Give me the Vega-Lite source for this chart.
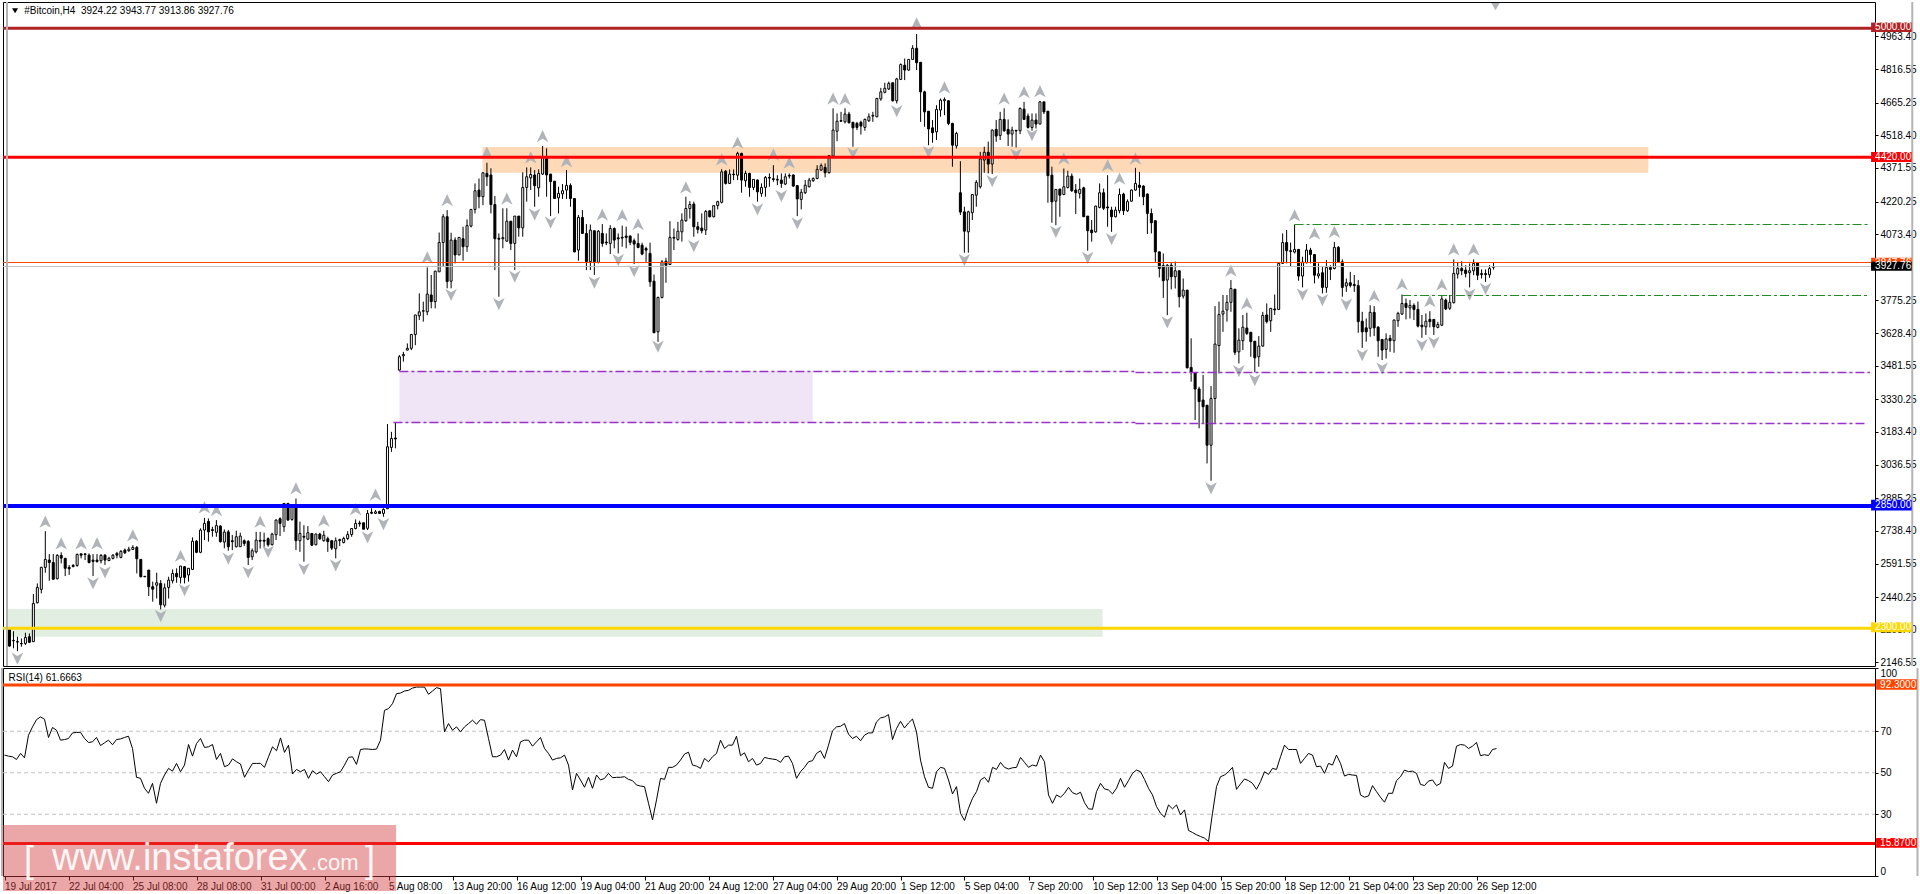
{"$schema":"https://vega.github.io/schema/vega-lite/v6.json","background":"#ffffff","padding":{"left":0,"top":0,"right":0,"bottom":0},"bounds":"flush","spacing":2,
"config":{"font":"Liberation Sans","view":{"stroke":"#000000","strokeWidth":1},"axis":{"grid":false,"title":null,"labelFont":"Liberation Sans","labelFontSize":10,"labelColor":"#000000","tickColor":"#000000","domain":false,"tickSize":3,"labelPadding":2,"labelOverlap":false}},
"datasets":{
"bars":[
{"i":0,"o":2295,"h":2300,"l":2217,"c":2220,"r":58.5},{"i":1,"o":2246,"h":2287,"l":2210,"c":2244,"r":58.0},{"i":2,"o":2240,"h":2262,"l":2197,"c":2238,"r":57.7},{"i":3,"o":2232,"h":2254,"l":2217,"c":2230,"r":56.4},{"i":4,"o":2232,"h":2280,"l":2225,"c":2259,"r":59.3},{"i":5,"o":2262,"h":2277,"l":2235,"c":2237,"r":57.2},{"i":6,"o":2240,"h":2454,"l":2238,"c":2412,"r":68.1},{"i":7,"o":2415,"h":2502,"l":2412,"c":2484,"r":72.1},{"i":8,"o":2475,"h":2577,"l":2457,"c":2574,"r":75.6},{"i":9,"o":2574,"h":2737,"l":2550,"c":2610,"r":76.9},
{"i":10,"o":2607,"h":2634,"l":2514,"c":2596,"r":75.8},{"i":11,"o":2596,"h":2634,"l":2517,"c":2521,"r":67.0},{"i":12,"o":2523,"h":2634,"l":2520,"c":2628,"r":71.8},{"i":13,"o":2628,"h":2642,"l":2592,"c":2616,"r":70.5},{"i":14,"o":2615,"h":2615,"l":2535,"c":2570,"r":65.7},{"i":15,"o":2574,"h":2585,"l":2540,"c":2568,"r":66.0},{"i":16,"o":2583,"h":2589,"l":2574,"c":2578,"r":66.5},{"i":17,"o":2583,"h":2637,"l":2577,"c":2632,"r":69.2},{"i":18,"o":2635,"h":2637,"l":2615,"c":2629,"r":69.4},{"i":19,"o":2635,"h":2637,"l":2607,"c":2632,"r":69.5},
{"i":20,"o":2629,"h":2637,"l":2592,"c":2596,"r":66.5},{"i":21,"o":2607,"h":2634,"l":2535,"c":2601,"r":64.6},{"i":22,"o":2607,"h":2634,"l":2596,"c":2600,"r":64.9},{"i":23,"o":2604,"h":2634,"l":2592,"c":2628,"r":67.0},{"i":24,"o":2629,"h":2634,"l":2585,"c":2607,"r":63.1},{"i":25,"o":2605,"h":2622,"l":2602,"c":2615,"r":64.4},{"i":26,"o":2615,"h":2634,"l":2610,"c":2629,"r":65.7},{"i":27,"o":2637,"h":2644,"l":2615,"c":2629,"r":63.5},{"i":28,"o":2619,"h":2652,"l":2615,"c":2646,"r":66.0},{"i":29,"o":2652,"h":2659,"l":2634,"c":2640,"r":66.3},
{"i":30,"o":2649,"h":2667,"l":2644,"c":2656,"r":67.0},{"i":31,"o":2655,"h":2674,"l":2652,"c":2664,"r":67.6},{"i":32,"o":2664,"h":2670,"l":2547,"c":2613,"r":61.7},{"i":33,"o":2610,"h":2610,"l":2529,"c":2532,"r":47.8},{"i":34,"o":2534,"h":2534,"l":2530,"c":2532,"r":47.3},{"i":35,"o":2562,"h":2562,"l":2445,"c":2487,"r":42.5},{"i":36,"o":2487,"h":2510,"l":2420,"c":2476,"r":40.1},{"i":37,"o":2494,"h":2550,"l":2434,"c":2505,"r":44.9},{"i":38,"o":2502,"h":2517,"l":2385,"c":2406,"r":35.3},{"i":39,"o":2404,"h":2502,"l":2394,"c":2482,"r":44.9},
{"i":40,"o":2484,"h":2532,"l":2434,"c":2517,"r":48.9},{"i":41,"o":2514,"h":2565,"l":2502,"c":2547,"r":52.1},{"i":42,"o":2547,"h":2570,"l":2505,"c":2532,"r":50.8},{"i":43,"o":2529,"h":2580,"l":2502,"c":2580,"r":54.5},{"i":44,"o":2577,"h":2580,"l":2502,"c":2529,"r":50.5},{"i":45,"o":2540,"h":2570,"l":2510,"c":2570,"r":53.7},{"i":46,"o":2565,"h":2709,"l":2562,"c":2692,"r":63.6},{"i":47,"o":2692,"h":2697,"l":2638,"c":2642,"r":58.0},{"i":48,"o":2642,"h":2750,"l":2638,"c":2742,"r":64.1},{"i":49,"o":2742,"h":2797,"l":2697,"c":2772,"r":66.5},
{"i":50,"o":2781,"h":2794,"l":2690,"c":2734,"r":62.2},{"i":51,"o":2744,"h":2757,"l":2712,"c":2740,"r":62.5},{"i":52,"o":2732,"h":2787,"l":2712,"c":2762,"r":63.6},{"i":53,"o":2760,"h":2764,"l":2685,"c":2690,"r":56.4},{"i":54,"o":2688,"h":2745,"l":2660,"c":2733,"r":59.3},{"i":55,"o":2734,"h":2742,"l":2649,"c":2667,"r":52.9},{"i":56,"o":2694,"h":2720,"l":2652,"c":2690,"r":53.7},{"i":57,"o":2667,"h":2739,"l":2664,"c":2712,"r":56.7},{"i":58,"o":2667,"h":2730,"l":2667,"c":2715,"r":55.3},{"i":59,"o":2694,"h":2700,"l":2670,"c":2682,"r":54.2},
{"i":60,"o":2691,"h":2697,"l":2585,"c":2619,"r":47.8},{"i":61,"o":2622,"h":2659,"l":2607,"c":2649,"r":51.3},{"i":62,"o":2644,"h":2734,"l":2637,"c":2697,"r":54.5},{"i":63,"o":2696,"h":2734,"l":2659,"c":2692,"r":54.5},{"i":64,"o":2696,"h":2730,"l":2667,"c":2692,"r":54.5},{"i":65,"o":2703,"h":2709,"l":2667,"c":2676,"r":52.6},{"i":66,"o":2676,"h":2730,"l":2673,"c":2724,"r":57.7},{"i":67,"o":2721,"h":2790,"l":2697,"c":2787,"r":62.5},{"i":68,"o":2793,"h":2799,"l":2715,"c":2772,"r":60.6},{"i":69,"o":2757,"h":2862,"l":2734,"c":2862,"r":66.8},
{"i":70,"o":2862,"h":2862,"l":2784,"c":2787,"r":59.8},{"i":71,"o":2790,"h":2859,"l":2784,"c":2844,"r":63.3},{"i":72,"o":2854,"h":2884,"l":2652,"c":2694,"r":49.4},{"i":73,"o":2694,"h":2780,"l":2644,"c":2727,"r":51.6},{"i":74,"o":2714,"h":2764,"l":2600,"c":2710,"r":50.5},{"i":75,"o":2701,"h":2760,"l":2697,"c":2730,"r":51.6},{"i":76,"o":2727,"h":2727,"l":2670,"c":2674,"r":47.3},{"i":77,"o":2676,"h":2727,"l":2673,"c":2724,"r":51.0},{"i":78,"o":2724,"h":2730,"l":2697,"c":2703,"r":49.4},{"i":79,"o":2694,"h":2739,"l":2690,"c":2719,"r":50.5},
{"i":80,"o":2703,"h":2712,"l":2644,"c":2690,"r":48.1},{"i":81,"o":2694,"h":2697,"l":2652,"c":2661,"r":45.7},{"i":82,"o":2658,"h":2709,"l":2615,"c":2694,"r":48.9},{"i":83,"o":2699,"h":2703,"l":2670,"c":2695,"r":49.7},{"i":84,"o":2686,"h":2712,"l":2682,"c":2704,"r":50.5},{"i":85,"o":2704,"h":2737,"l":2697,"c":2722,"r":53.7},{"i":86,"o":2722,"h":2749,"l":2712,"c":2749,"r":57.4},{"i":87,"o":2749,"h":2790,"l":2745,"c":2772,"r":57.7},{"i":88,"o":2774,"h":2784,"l":2757,"c":2770,"r":54.0},{"i":89,"o":2775,"h":2775,"l":2745,"c":2746,"r":61.2},
{"i":90,"o":2750,"h":2832,"l":2742,"c":2817,"r":61.5},{"i":91,"o":2822,"h":2840,"l":2814,"c":2818,"r":61.4},{"i":92,"o":2817,"h":2832,"l":2814,"c":2824,"r":61.2},{"i":93,"o":2826,"h":2829,"l":2817,"c":2817,"r":61.4},{"i":94,"o":2817,"h":2840,"l":2802,"c":2835,"r":65.7},{"i":95,"o":2838,"h":3219,"l":2838,"c":3117,"r":80.1},{"i":96,"o":3114,"h":3184,"l":3094,"c":3154,"r":80.9},{"i":97,"o":3156,"h":3225,"l":3110,"c":3152,"r":83.3},{"i":98,"o":3462,"h":3530,"l":3459,"c":3522,"r":88.1},{"i":99,"o":3526,"h":3544,"l":3500,"c":3532,"r":88.4},
{"i":100,"o":3552,"h":3582,"l":3550,"c":3560,"r":89.4},{"i":101,"o":3560,"h":3625,"l":3552,"c":3622,"r":89.7},{"i":102,"o":3622,"h":3710,"l":3574,"c":3710,"r":90.8},{"i":103,"o":3706,"h":3807,"l":3687,"c":3724,"r":91.3},{"i":104,"o":3727,"h":3770,"l":3680,"c":3729,"r":91.3},{"i":105,"o":3724,"h":3924,"l":3709,"c":3804,"r":91.3},{"i":106,"o":3800,"h":3890,"l":3740,"c":3770,"r":87.8},{"i":107,"o":3770,"h":3909,"l":3740,"c":3907,"r":89.4},{"i":108,"o":3904,"h":4081,"l":3904,"c":4036,"r":91.0},{"i":109,"o":4036,"h":4164,"l":3927,"c":4152,"r":90.5},
{"i":110,"o":4152,"h":4182,"l":3830,"c":3860,"r":69.7},{"i":111,"o":3862,"h":4080,"l":3830,"c":4047,"r":73.7},{"i":112,"o":4047,"h":4059,"l":3942,"c":3980,"r":70.5},{"i":113,"o":3980,"h":4059,"l":3980,"c":4059,"r":72.1},{"i":114,"o":4053,"h":4107,"l":3954,"c":4017,"r":69.7},{"i":115,"o":4017,"h":4140,"l":3994,"c":4112,"r":72.1},{"i":116,"o":4110,"h":4185,"l":4104,"c":4185,"r":73.7},{"i":117,"o":4185,"h":4302,"l":4167,"c":4269,"r":75.3},{"i":118,"o":4272,"h":4324,"l":4190,"c":4242,"r":73.4},{"i":119,"o":4242,"h":4350,"l":4204,"c":4350,"r":75.6},
{"i":120,"o":4347,"h":4395,"l":4290,"c":4332,"r":75.3},{"i":121,"o":4340,"h":4370,"l":4167,"c":4207,"r":66.5},{"i":122,"o":4207,"h":4245,"l":3912,"c":4053,"r":57.7},{"i":123,"o":4055,"h":4077,"l":3792,"c":4051,"r":57.7},{"i":124,"o":4053,"h":4190,"l":4010,"c":4058,"r":58.5},{"i":125,"o":4042,"h":4190,"l":4040,"c":4132,"r":61.2},{"i":126,"o":4132,"h":4132,"l":4002,"c":4032,"r":56.1},{"i":127,"o":4032,"h":4155,"l":3912,"c":4155,"r":60.9},{"i":128,"o":4155,"h":4155,"l":4062,"c":4102,"r":57.7},{"i":129,"o":4102,"h":4352,"l":4062,"c":4284,"r":64.9},
{"i":130,"o":4284,"h":4374,"l":4220,"c":4332,"r":65.7},{"i":131,"o":4327,"h":4374,"l":4272,"c":4342,"r":65.7},{"i":132,"o":4340,"h":4362,"l":4197,"c":4292,"r":62.8},{"i":133,"o":4282,"h":4365,"l":4242,"c":4347,"r":64.9},{"i":134,"o":4344,"h":4470,"l":4340,"c":4419,"r":67.0},{"i":135,"o":4419,"h":4460,"l":4242,"c":4340,"r":61.7},{"i":136,"o":4344,"h":4344,"l":4155,"c":4310,"r":59.3},{"i":137,"o":4312,"h":4312,"l":4234,"c":4234,"r":56.1},{"i":138,"o":4237,"h":4287,"l":4167,"c":4257,"r":56.9},{"i":139,"o":4255,"h":4299,"l":4232,"c":4269,"r":57.2},
{"i":140,"o":4272,"h":4362,"l":4232,"c":4293,"r":58.5},{"i":141,"o":4293,"h":4302,"l":4197,"c":4234,"r":53.7},{"i":142,"o":4234,"h":4234,"l":3992,"c":3994,"r":41.7},{"i":143,"o":4002,"h":4160,"l":3954,"c":4149,"r":49.7},{"i":144,"o":4149,"h":4182,"l":4077,"c":4077,"r":46.5},{"i":145,"o":4077,"h":4119,"l":3912,"c":3950,"r":43.0},{"i":146,"o":3950,"h":4117,"l":3912,"c":4092,"r":47.8},{"i":147,"o":4089,"h":4089,"l":3890,"c":3950,"r":42.5},{"i":148,"o":3947,"h":4092,"l":3942,"c":4087,"r":48.9},{"i":149,"o":4077,"h":4119,"l":4017,"c":4032,"r":46.5},
{"i":150,"o":4038,"h":4077,"l":4024,"c":4034,"r":47.3},{"i":151,"o":4032,"h":4114,"l":3984,"c":4099,"r":49.7},{"i":152,"o":4099,"h":4104,"l":4010,"c":4047,"r":47.6},{"i":153,"o":4057,"h":4077,"l":3987,"c":4053,"r":47.8},{"i":154,"o":4059,"h":4112,"l":4017,"c":4056,"r":47.8},{"i":155,"o":4065,"h":4107,"l":4010,"c":4059,"r":48.1},{"i":156,"o":4065,"h":4069,"l":4024,"c":4037,"r":46.8},{"i":157,"o":4044,"h":4054,"l":3939,"c":4029,"r":46.2},{"i":158,"o":4032,"h":4077,"l":4010,"c":4014,"r":44.1},{"i":159,"o":4024,"h":4035,"l":3979,"c":3984,"r":43.6},
{"i":160,"o":4009,"h":4017,"l":3949,"c":4002,"r":43.3},{"i":161,"o":3987,"h":4035,"l":3837,"c":3859,"r":35.3},{"i":162,"o":3862,"h":3892,"l":3630,"c":3630,"r":27.3},{"i":163,"o":3634,"h":3792,"l":3589,"c":3789,"r":36.9},{"i":164,"o":3789,"h":3957,"l":3784,"c":3949,"r":47.3},{"i":165,"o":3952,"h":3967,"l":3855,"c":3934,"r":46.8},{"i":166,"o":3937,"h":4132,"l":3937,"c":4059,"r":52.6},{"i":167,"o":4059,"h":4099,"l":4002,"c":4056,"r":52.6},{"i":168,"o":4050,"h":4129,"l":4044,"c":4087,"r":53.7},{"i":169,"o":4084,"h":4167,"l":4040,"c":4137,"r":56.1},
{"i":170,"o":4134,"h":4242,"l":4129,"c":4189,"r":59.0},{"i":171,"o":4189,"h":4222,"l":4144,"c":4207,"r":59.9},{"i":172,"o":4209,"h":4220,"l":4062,"c":4107,"r":53.7},{"i":173,"o":4107,"h":4129,"l":4077,"c":4095,"r":53.2},{"i":174,"o":4101,"h":4167,"l":4077,"c":4089,"r":52.1},{"i":175,"o":4092,"h":4182,"l":4070,"c":4176,"r":56.9},{"i":176,"o":4179,"h":4179,"l":4149,"c":4152,"r":55.3},{"i":177,"o":4152,"h":4204,"l":4149,"c":4202,"r":57.7},{"i":178,"o":4202,"h":4224,"l":4185,"c":4220,"r":59.3},{"i":179,"o":4217,"h":4366,"l":4212,"c":4354,"r":65.7},
{"i":180,"o":4357,"h":4362,"l":4297,"c":4302,"r":61.7},{"i":181,"o":4302,"h":4365,"l":4299,"c":4344,"r":63.3},{"i":182,"o":4344,"h":4365,"l":4317,"c":4341,"r":63.3},{"i":183,"o":4339,"h":4444,"l":4317,"c":4437,"r":67.6},{"i":184,"o":4437,"h":4440,"l":4260,"c":4317,"r":58.2},{"i":185,"o":4314,"h":4359,"l":4287,"c":4347,"r":59.6},{"i":186,"o":4347,"h":4350,"l":4242,"c":4284,"r":55.3},{"i":187,"o":4284,"h":4320,"l":4272,"c":4320,"r":56.9},{"i":188,"o":4317,"h":4320,"l":4220,"c":4264,"r":53.7},{"i":189,"o":4257,"h":4302,"l":4242,"c":4284,"r":54.5},
{"i":190,"o":4284,"h":4335,"l":4242,"c":4329,"r":57.4},{"i":191,"o":4329,"h":4347,"l":4287,"c":4326,"r":56.9},{"i":192,"o":4323,"h":4384,"l":4309,"c":4320,"r":56.6},{"i":193,"o":4320,"h":4339,"l":4294,"c":4317,"r":56.3},{"i":194,"o":4317,"h":4347,"l":4282,"c":4302,"r":55.0},{"i":195,"o":4299,"h":4347,"l":4294,"c":4332,"r":57.7},{"i":196,"o":4338,"h":4347,"l":4324,"c":4335,"r":58.0},{"i":197,"o":4340,"h":4342,"l":4287,"c":4290,"r":54.5},{"i":198,"o":4292,"h":4294,"l":4155,"c":4232,"r":47.3},{"i":199,"o":4230,"h":4277,"l":4185,"c":4262,"r":50.5},
{"i":200,"o":4260,"h":4317,"l":4254,"c":4294,"r":52.6},{"i":201,"o":4287,"h":4327,"l":4284,"c":4317,"r":55.3},{"i":202,"o":4314,"h":4329,"l":4309,"c":4324,"r":55.8},{"i":203,"o":4324,"h":4384,"l":4321,"c":4365,"r":59.3},{"i":204,"o":4362,"h":4392,"l":4359,"c":4382,"r":60.6},{"i":205,"o":4374,"h":4392,"l":4329,"c":4350,"r":56.9},{"i":206,"o":4350,"h":4430,"l":4347,"c":4427,"r":63.3},{"i":207,"o":4425,"h":4640,"l":4422,"c":4542,"r":70.2},{"i":208,"o":4537,"h":4617,"l":4492,"c":4582,"r":72.1},{"i":209,"o":4585,"h":4624,"l":4579,"c":4582,"r":72.4},
{"i":210,"o":4579,"h":4640,"l":4572,"c":4614,"r":73.7},{"i":211,"o":4614,"h":4624,"l":4572,"c":4575,"r":68.6},{"i":212,"o":4577,"h":4579,"l":4467,"c":4552,"r":66.5},{"i":213,"o":4572,"h":4579,"l":4542,"c":4554,"r":67.6},{"i":214,"o":4577,"h":4584,"l":4522,"c":4560,"r":65.4},{"i":215,"o":4554,"h":4594,"l":4539,"c":4590,"r":68.1},{"i":216,"o":4584,"h":4617,"l":4579,"c":4602,"r":69.2},{"i":217,"o":4605,"h":4624,"l":4579,"c":4608,"r":69.2},{"i":218,"o":4602,"h":4687,"l":4599,"c":4684,"r":74.5},{"i":219,"o":4682,"h":4732,"l":4674,"c":4714,"r":76.4},
{"i":220,"o":4712,"h":4755,"l":4707,"c":4730,"r":76.9},{"i":221,"o":4727,"h":4760,"l":4722,"c":4752,"r":78.0},{"i":222,"o":4755,"h":4755,"l":4670,"c":4674,"r":66.0},{"i":223,"o":4674,"h":4777,"l":4662,"c":4772,"r":71.3},{"i":224,"o":4770,"h":4842,"l":4767,"c":4837,"r":74.8},{"i":225,"o":4834,"h":4864,"l":4767,"c":4812,"r":71.6},{"i":226,"o":4812,"h":4860,"l":4809,"c":4860,"r":74.0},{"i":227,"o":4860,"h":4924,"l":4860,"c":4910,"r":75.9},{"i":228,"o":4910,"h":4974,"l":4812,"c":4845,"r":69.7},{"i":229,"o":4847,"h":4847,"l":4579,"c":4714,"r":56.1},
{"i":230,"o":4714,"h":4719,"l":4557,"c":4624,"r":48.1},{"i":231,"o":4627,"h":4627,"l":4474,"c":4547,"r":43.0},{"i":232,"o":4552,"h":4587,"l":4485,"c":4530,"r":42.5},{"i":233,"o":4534,"h":4654,"l":4497,"c":4635,"r":50.5},{"i":234,"o":4632,"h":4684,"l":4602,"c":4677,"r":52.6},{"i":235,"o":4674,"h":4689,"l":4609,"c":4680,"r":52.1},{"i":236,"o":4674,"h":4677,"l":4564,"c":4572,"r":46.5},{"i":237,"o":4572,"h":4575,"l":4377,"c":4474,"r":39.8},{"i":238,"o":4471,"h":4534,"l":4459,"c":4527,"r":43.3},{"i":239,"o":4260,"h":4402,"l":4160,"c":4173,"r":30.5},
{"i":240,"o":4174,"h":4197,"l":3990,"c":4087,"r":27.0},{"i":241,"o":4084,"h":4179,"l":3990,"c":4174,"r":32.9},{"i":242,"o":4170,"h":4254,"l":4137,"c":4252,"r":37.7},{"i":243,"o":4249,"h":4317,"l":4197,"c":4307,"r":40.9},{"i":244,"o":4287,"h":4444,"l":4279,"c":4412,"r":46.5},{"i":245,"o":4407,"h":4467,"l":4350,"c":4442,"r":47.8},{"i":246,"o":4442,"h":4490,"l":4347,"c":4389,"r":45.4},{"i":247,"o":4389,"h":4545,"l":4344,"c":4542,"r":52.6},{"i":248,"o":4545,"h":4587,"l":4489,"c":4515,"r":51.6},{"i":249,"o":4518,"h":4624,"l":4497,"c":4590,"r":55.0},
{"i":250,"o":4590,"h":4640,"l":4534,"c":4539,"r":52.6},{"i":251,"o":4545,"h":4590,"l":4470,"c":4524,"r":51.8},{"i":252,"o":4524,"h":4557,"l":4467,"c":4542,"r":52.4},{"i":253,"o":4541,"h":4542,"l":4464,"c":4538,"r":52.6},{"i":254,"o":4539,"h":4644,"l":4524,"c":4639,"r":57.4},{"i":255,"o":4636,"h":4669,"l":4587,"c":4590,"r":55.0},{"i":256,"o":4605,"h":4617,"l":4549,"c":4554,"r":52.6},{"i":257,"o":4554,"h":4617,"l":4539,"c":4587,"r":53.7},{"i":258,"o":4587,"h":4617,"l":4549,"c":4569,"r":53.2},{"i":259,"o":4569,"h":4672,"l":4569,"c":4669,"r":58.5},
{"i":260,"o":4669,"h":4669,"l":4614,"c":4624,"r":55.3},{"i":261,"o":4627,"h":4627,"l":4215,"c":4337,"r":39.3},{"i":262,"o":4339,"h":4377,"l":4125,"c":4219,"r":35.3},{"i":263,"o":4222,"h":4275,"l":4114,"c":4275,"r":39.3},{"i":264,"o":4276,"h":4279,"l":4152,"c":4249,"r":38.2},{"i":265,"o":4252,"h":4369,"l":4249,"c":4287,"r":40.1},{"i":266,"o":4284,"h":4359,"l":4279,"c":4335,"r":43.0},{"i":267,"o":4335,"h":4347,"l":4264,"c":4269,"r":40.4},{"i":268,"o":4272,"h":4299,"l":4164,"c":4260,"r":39.6},{"i":269,"o":4257,"h":4324,"l":4234,"c":4275,"r":40.6},
{"i":270,"o":4282,"h":4287,"l":4152,"c":4152,"r":35.6},{"i":271,"o":4155,"h":4155,"l":3999,"c":4089,"r":32.6},{"i":272,"o":4092,"h":4137,"l":4040,"c":4080,"r":32.4},{"i":273,"o":4084,"h":4202,"l":4080,"c":4200,"r":40.9},{"i":274,"o":4194,"h":4302,"l":4190,"c":4260,"r":44.9},{"i":275,"o":4260,"h":4279,"l":4182,"c":4190,"r":42.2},{"i":276,"o":4196,"h":4339,"l":4107,"c":4192,"r":41.7},{"i":277,"o":4182,"h":4197,"l":4084,"c":4152,"r":39.8},{"i":278,"o":4152,"h":4197,"l":4149,"c":4182,"r":42.5},{"i":279,"o":4179,"h":4279,"l":4167,"c":4252,"r":47.3},
{"i":280,"o":4254,"h":4260,"l":4160,"c":4179,"r":43.0},{"i":281,"o":4179,"h":4230,"l":4174,"c":4220,"r":46.2},{"i":282,"o":4222,"h":4275,"l":4220,"c":4272,"r":49.7},{"i":283,"o":4272,"h":4372,"l":4269,"c":4302,"r":51.3},{"i":284,"o":4294,"h":4354,"l":4242,"c":4284,"r":50.5},{"i":285,"o":4290,"h":4294,"l":4204,"c":4242,"r":46.8},{"i":286,"o":4254,"h":4257,"l":4074,"c":4167,"r":42.5},{"i":287,"o":4167,"h":4189,"l":4077,"c":4125,"r":39.3},{"i":288,"o":4134,"h":4137,"l":3949,"c":3994,"r":33.7},{"i":289,"o":3994,"h":3994,"l":3879,"c":3919,"r":30.5},
{"i":290,"o":3932,"h":3987,"l":3787,"c":3864,"r":28.6},{"i":291,"o":3867,"h":3939,"l":3709,"c":3934,"r":34.5},{"i":292,"o":3934,"h":3947,"l":3825,"c":3882,"r":32.6},{"i":293,"o":3882,"h":3950,"l":3829,"c":3909,"r":34.5},{"i":294,"o":3909,"h":3909,"l":3744,"c":3792,"r":29.7},{"i":295,"o":3795,"h":3874,"l":3784,"c":3822,"r":32.1},{"i":296,"o":3822,"h":3822,"l":3470,"c":3472,"r":22.2},{"i":297,"o":3474,"h":3605,"l":3410,"c":3450,"r":21.2},{"i":298,"o":3450,"h":3450,"l":3237,"c":3377,"r":20.1},{"i":299,"o":3377,"h":3387,"l":3200,"c":3320,"r":19.3},
{"i":300,"o":3327,"h":3440,"l":3222,"c":3297,"r":18.5},{"i":301,"o":3304,"h":3304,"l":3042,"c":3124,"r":16.9},{"i":302,"o":3124,"h":3390,"l":2964,"c":3334,"r":30.5},{"i":303,"o":3334,"h":3750,"l":3222,"c":3579,"r":43.3},{"i":304,"o":3572,"h":3770,"l":3447,"c":3712,"r":48.1},{"i":305,"o":3714,"h":3800,"l":3634,"c":3727,"r":48.9},{"i":306,"o":3732,"h":3800,"l":3680,"c":3767,"r":50.5},{"i":307,"o":3767,"h":3867,"l":3724,"c":3829,"r":52.6},{"i":308,"o":3826,"h":3826,"l":3530,"c":3542,"r":42.0},{"i":309,"o":3544,"h":3650,"l":3492,"c":3597,"r":44.6},
{"i":310,"o":3594,"h":3710,"l":3552,"c":3655,"r":47.0},{"i":311,"o":3651,"h":3720,"l":3620,"c":3627,"r":46.2},{"i":312,"o":3632,"h":3634,"l":3522,"c":3590,"r":44.9},{"i":313,"o":3592,"h":3592,"l":3452,"c":3517,"r":42.0},{"i":314,"o":3522,"h":3615,"l":3477,"c":3570,"r":45.7},{"i":315,"o":3570,"h":3724,"l":3567,"c":3708,"r":50.5},{"i":316,"o":3710,"h":3762,"l":3672,"c":3680,"r":49.2},{"i":317,"o":3684,"h":3740,"l":3634,"c":3740,"r":52.1},{"i":318,"o":3737,"h":3802,"l":3710,"c":3733,"r":51.6},{"i":319,"o":3735,"h":3942,"l":3732,"c":3942,"r":57.7},
{"i":320,"o":3942,"h":4077,"l":3942,"c":4036,"r":63.3},{"i":321,"o":4036,"h":4092,"l":3942,"c":3999,"r":61.2},{"i":322,"o":3999,"h":4036,"l":3927,"c":3996,"r":61.2},{"i":323,"o":3993,"h":4117,"l":3987,"c":4005,"r":61.2},{"i":324,"o":4005,"h":4005,"l":3864,"c":3885,"r":54.5},{"i":325,"o":3885,"h":3972,"l":3834,"c":3948,"r":56.9},{"i":326,"o":3945,"h":4029,"l":3942,"c":4002,"r":59.3},{"i":327,"o":4002,"h":4012,"l":3942,"c":3982,"r":58.5},{"i":328,"o":3982,"h":3982,"l":3852,"c":3889,"r":52.9},{"i":329,"o":3886,"h":3942,"l":3874,"c":3895,"r":53.2},
{"i":330,"o":3900,"h":3927,"l":3807,"c":3834,"r":49.7},{"i":331,"o":3834,"h":3957,"l":3810,"c":3924,"r":54.5},{"i":332,"o":3924,"h":3934,"l":3867,"c":3915,"r":53.7},{"i":333,"o":3919,"h":4039,"l":3915,"c":4014,"r":58.5},{"i":334,"o":4014,"h":4020,"l":3945,"c":3949,"r":54.5},{"i":335,"o":3949,"h":3960,"l":3792,"c":3834,"r":48.4},{"i":336,"o":3840,"h":3874,"l":3814,"c":3855,"r":49.2},{"i":337,"o":3855,"h":3904,"l":3834,"c":3843,"r":48.9},{"i":338,"o":3847,"h":3890,"l":3814,"c":3842,"r":48.7},{"i":339,"o":3842,"h":3867,"l":3630,"c":3680,"r":39.3},
{"i":340,"o":3682,"h":3724,"l":3562,"c":3634,"r":38.2},{"i":341,"o":3652,"h":3694,"l":3590,"c":3634,"r":38.8},{"i":342,"o":3650,"h":3754,"l":3612,"c":3722,"r":43.8},{"i":343,"o":3722,"h":3750,"l":3615,"c":3652,"r":40.9},{"i":344,"o":3655,"h":3660,"l":3522,"c":3594,"r":38.2},{"i":345,"o":3600,"h":3600,"l":3507,"c":3552,"r":35.8},{"i":346,"o":3555,"h":3627,"l":3514,"c":3602,"r":40.1},{"i":347,"o":3605,"h":3620,"l":3544,"c":3594,"r":40.1},{"i":348,"o":3594,"h":3690,"l":3540,"c":3687,"r":46.2},{"i":349,"o":3684,"h":3724,"l":3657,"c":3717,"r":48.1},
{"i":350,"o":3714,"h":3802,"l":3710,"c":3762,"r":51.3},{"i":351,"o":3762,"h":3784,"l":3690,"c":3744,"r":50.5},{"i":352,"o":3742,"h":3777,"l":3694,"c":3753,"r":50.8},{"i":353,"o":3753,"h":3762,"l":3687,"c":3735,"r":49.7},{"i":354,"o":3735,"h":3770,"l":3654,"c":3660,"r":44.4},{"i":355,"o":3664,"h":3710,"l":3607,"c":3657,"r":43.8},{"i":356,"o":3657,"h":3717,"l":3620,"c":3682,"r":46.0},{"i":357,"o":3690,"h":3727,"l":3654,"c":3680,"r":46.5},{"i":358,"o":3690,"h":3690,"l":3620,"c":3657,"r":43.8},{"i":359,"o":3654,"h":3679,"l":3650,"c":3667,"r":44.9},
{"i":360,"o":3664,"h":3800,"l":3660,"c":3782,"r":55.0},{"i":361,"o":3777,"h":3784,"l":3732,"c":3737,"r":52.1},{"i":362,"o":3740,"h":3800,"l":3732,"c":3767,"r":53.2},{"i":363,"o":3765,"h":3960,"l":3762,"c":3897,"r":62.8},{"i":364,"o":3894,"h":3945,"l":3874,"c":3919,"r":63.6},{"i":365,"o":3919,"h":3952,"l":3889,"c":3909,"r":63.3},{"i":366,"o":3912,"h":3934,"l":3879,"c":3897,"r":61.7},{"i":367,"o":3900,"h":3942,"l":3834,"c":3909,"r":62.8},{"i":368,"o":3909,"h":3960,"l":3889,"c":3942,"r":64.6},{"i":369,"o":3945,"h":3945,"l":3867,"c":3889,"r":58.2},
{"i":370,"o":3896,"h":3915,"l":3874,"c":3892,"r":58.7},{"i":371,"o":3896,"h":3915,"l":3859,"c":3892,"r":58.3},{"i":372,"o":3891,"h":3934,"l":3877,"c":3919,"r":61.2},{"i":373,"o":3924.22,"h":3943.77,"l":3913.86,"c":3927.76,"r":61.67}
],
"up":[{"i":9,"p":2780},{"i":13,"p":2682},{"i":18,"p":2682},{"i":22,"p":2682},{"i":31,"p":2718},{"i":43,"p":2626},{"i":49,"p":2844},{"i":52,"p":2832},{"i":63,"p":2780},{"i":72,"p":2930},{"i":79,"p":2784},{"i":87,"p":2836},{"i":92,"p":2902},{"i":105,"p":3969},{"i":110,"p":4227},{"i":120,"p":4440},{"i":125,"p":4234},{"i":131,"p":4419},{"i":134,"p":4515},{"i":140,"p":4402},{"i":149,"p":4162},{"i":154,"p":4159},{"i":158,"p":4119},{"i":170,"p":4284},{"i":179,"p":4410},{"i":183,"p":4485},{"i":192,"p":4432},{"i":196,"p":4396},{"i":207,"p":4684},{"i":210,"p":4681},{"i":228,"p":5022},{"i":235,"p":4734},{"i":250,"p":4684},{"i":255,"p":4713},{"i":259,"p":4717},{"i":265,"p":4414},{"i":276,"p":4383},{"i":279,"p":4324},{"i":283,"p":4414},{"i":307,"p":3910},{"i":311,"p":3762},{"i":323,"p":4158},{"i":328,"p":4077},{"i":333,"p":4084},{"i":343,"p":3796},{"i":350,"p":3849},{"i":357,"p":3772},{"i":360,"p":3847},{"i":363,"p":4005},{"i":368,"p":4005}],
"down":[{"i":2,"p":2163},{"i":21,"p":2502},{"i":24,"p":2552},{"i":38,"p":2355},{"i":44,"p":2472},{"i":55,"p":2613},{"i":60,"p":2552},{"i":65,"p":2644},{"i":74,"p":2566},{"i":82,"p":2583},{"i":90,"p":2709},{"i":94,"p":2769},{"i":111,"p":3800},{"i":123,"p":3759},{"i":127,"p":3882},{"i":132,"p":4162},{"i":136,"p":4125},{"i":147,"p":3856},{"i":153,"p":3957},{"i":157,"p":3907},{"i":163,"p":3567},{"i":172,"p":4020},{"i":188,"p":4185},{"i":194,"p":4245},{"i":198,"p":4122},{"i":212,"p":4437},{"i":223,"p":4627},{"i":231,"p":4443},{"i":240,"p":3957},{"i":247,"p":4312},{"i":253,"p":4432},{"i":257,"p":4519},{"i":263,"p":4084},{"i":271,"p":3967},{"i":277,"p":4051},{"i":291,"p":3677},{"i":302,"p":2930},{"i":309,"p":3457},{"i":313,"p":3417},{"i":325,"p":3802},{"i":330,"p":3777},{"i":336,"p":3757},{"i":340,"p":3529},{"i":345,"p":3469},{"i":355,"p":3574},{"i":358,"p":3586},{"i":367,"p":3802},{"i":371,"p":3827}]
},
"vconcat":[
{"width":1872,"height":664,"layer":[
{"mark":{"type":"rect","color":"#fdd9b8"},"data":{"values":[{"i":118.9,"i2":411.9,"p":4466,"p2":4350}]},"encoding":{"x":{"field":"i","type":"quantitative","scale":{"domain":[-0.375,467.625],"nice":false,"zero":false},"axis":{"title":null,"labels":false,"ticks":false}},"x2":{"field":"i2"},"y":{"field":"p","type":"quantitative","scale":{"domain":[2130.35,5118.35],"nice":false,"zero":false},"axis":{"title":null,"orient":"right","labelOverlap":false,"tickCount":40,"values":[4963.40,4816.55,4665.25,4518.40,4371.55,4220.25,4073.40,3775.25,3628.40,3481.55,3330.25,3183.40,3036.55,2885.25,2738.40,2591.55,2440.25,2293.40,2146.55],"format":".2f"}},"y2":{"field":"p2"}}},
{"mark":{"type":"rect","color":"#f0e4f7"},"data":{"values":[{"i":98,"i2":201.9,"p":3455.6,"p2":3226}]},"encoding":{"x":{"field":"i","type":"quantitative"},"x2":{"field":"i2"},"y":{"field":"p","type":"quantitative"},"y2":{"field":"p2"}}},
{"mark":{"type":"rect","color":"#e2eee2"},"data":{"values":[{"i":-0.375,"i2":274.75,"p":2387,"p2":2262}]},"encoding":{"x":{"field":"i","type":"quantitative"},"x2":{"field":"i2"},"y":{"field":"p","type":"quantitative"},"y2":{"field":"p2"}}},
{"mark":{"type":"rule","color":"#000000","strokeWidth":1},"data":{"name":"bars"},"encoding":{"x":{"field":"i","type":"quantitative"},"y":{"field":"l","type":"quantitative"},"y2":{"field":"h"}}},
{"mark":{"type":"bar","size":2,"stroke":"#000000","strokeWidth":1},"data":{"name":"bars"},"encoding":{"x":{"field":"i","type":"quantitative"},"y":{"field":"o","type":"quantitative"},"y2":{"field":"c"},"fill":{"condition":{"test":"datum.c>=datum.o","value":"#ffffff"},"value":"#000000"}}},
{"mark":{"type":"point","filled":true,"opacity":1,"size":150,"color":"#b0b4b8","shape":"M0,-1L0.95,1L0,0.45L-0.95,1Z"},"data":{"name":"up"},"encoding":{"x":{"field":"i","type":"quantitative"},"y":{"field":"p","type":"quantitative"}}},
{"mark":{"type":"point","filled":true,"opacity":1,"size":150,"color":"#b0b4b8","shape":"M0,1L0.95,-1L0,-0.45L-0.95,-1Z"},"data":{"name":"down"},"encoding":{"x":{"field":"i","type":"quantitative"},"y":{"field":"p","type":"quantitative"}}},
{"mark":{"type":"point","filled":true,"opacity":1,"size":70,"color":"#b0b4b8","shape":"triangle-down"},"data":{"values":[{"i":373.5,"p":5098}]},"encoding":{"x":{"field":"i","type":"quantitative"},"y":{"field":"p","type":"quantitative"}}},
{"mark":{"type":"rule","color":"#c0c0c0","strokeWidth":1},"data":{"values":[{"p":3927.76}]},"encoding":{"y":{"field":"p","type":"quantitative"}}},
{"mark":{"type":"rule","color":"#ff4500","strokeWidth":1},"data":{"values":[{"p":3946.1}]},"encoding":{"y":{"field":"p","type":"quantitative"}}},
{"mark":{"type":"rule","color":"#228b22","strokeWidth":1.2,"strokeDash":[9,3,3,3]},"data":{"values":[{"i":323,"i2":467.625,"p":4117.1},{"i":350,"i2":467.625,"p":3797.6}]},"encoding":{"x":{"field":"i","type":"quantitative"},"x2":{"field":"i2"},"y":{"field":"p","type":"quantitative"}}},
{"mark":{"type":"rule","color":"#9932cc","strokeWidth":1.5,"strokeDash":[9,3,3,3]},"data":{"values":[{"i":98,"i2":283,"p":3455.6},{"i":283,"i2":467.625,"p":3451.1},{"i":96.5,"i2":283,"p":3226.1},{"i":283,"i2":466.5,"p":3221.6}]},"encoding":{"x":{"field":"i","type":"quantitative"},"x2":{"field":"i2"},"y":{"field":"p","type":"quantitative"}}},
{"mark":{"type":"rule","color":"#b22222","strokeWidth":3},"data":{"values":[{"p":5000}]},"encoding":{"y":{"field":"p","type":"quantitative"}}},
{"mark":{"type":"rule","color":"#ff0000","strokeWidth":3},"data":{"values":[{"p":4420}]},"encoding":{"y":{"field":"p","type":"quantitative"}}},
{"mark":{"type":"rule","color":"#0000ff","strokeWidth":4},"data":{"values":[{"p":2850}]},"encoding":{"y":{"field":"p","type":"quantitative"}}},
{"mark":{"type":"rule","color":"#ffd700","strokeWidth":3},"data":{"values":[{"p":2300}]},"encoding":{"y":{"field":"p","type":"quantitative"}}},
{"mark":{"type":"rule","color":"#b4b4b4","strokeWidth":2},"data":{"values":[{"i":-0.625},{"i":478.25}]},"encoding":{"x":{"field":"i","type":"quantitative"}}},
{"mark":{"type":"rect","color":"#ff4500"},"data":{"values":[{"i":467.9,"i2":478.1,"p":3968,"p2":3921}]},"encoding":{"x":{"field":"i","type":"quantitative"},"x2":{"field":"i2"},"y":{"field":"p","type":"quantitative"},"y2":{"field":"p2"}}},
{"mark":{"type":"text","align":"left","baseline":"middle","fontSize":10,"color":"#ffffff"},"data":{"values":[{"i":468.9,"p":3946,"t":"3947.76"}]},"encoding":{"x":{"field":"i","type":"quantitative"},"y":{"field":"p","type":"quantitative"},"text":{"field":"t"}}},
{"mark":{"type":"rect","color":"#000000"},"data":{"values":[{"i":467.9,"i2":478.1,"p":3950,"p2":3909}]},"encoding":{"x":{"field":"i","type":"quantitative"},"x2":{"field":"i2"},"y":{"field":"p","type":"quantitative"},"y2":{"field":"p2"}}},
{"mark":{"type":"rect","color":"#b22222"},"data":{"values":[{"i":467.9,"i2":478.1,"p":5026,"p2":4983}]},"encoding":{"x":{"field":"i","type":"quantitative"},"x2":{"field":"i2"},"y":{"field":"p","type":"quantitative"},"y2":{"field":"p2"}}},
{"mark":{"type":"rect","color":"#ff0000"},"data":{"values":[{"i":467.9,"i2":478.1,"p":4443,"p2":4398}]},"encoding":{"x":{"field":"i","type":"quantitative"},"x2":{"field":"i2"},"y":{"field":"p","type":"quantitative"},"y2":{"field":"p2"}}},
{"mark":{"type":"rect","color":"#0000ff"},"data":{"values":[{"i":467.9,"i2":478.1,"p":2878,"p2":2830}]},"encoding":{"x":{"field":"i","type":"quantitative"},"x2":{"field":"i2"},"y":{"field":"p","type":"quantitative"},"y2":{"field":"p2"}}},
{"mark":{"type":"rect","color":"#ffd700"},"data":{"values":[{"i":467.9,"i2":478.1,"p":2327,"p2":2282}]},"encoding":{"x":{"field":"i","type":"quantitative"},"x2":{"field":"i2"},"y":{"field":"p","type":"quantitative"},"y2":{"field":"p2"}}},
{"mark":{"type":"text","align":"left","baseline":"middle","fontSize":10,"color":"#ffffff"},"data":{"values":[{"i":468.9,"p":5005,"t":"5000.00"},{"i":468.9,"p":4421,"t":"4420.00"},{"i":468.9,"p":3930,"t":"3927.76"},{"i":468.9,"p":2853,"t":"2850.00"},{"i":468.9,"p":2305,"t":"2300.00"}]},"encoding":{"x":{"field":"i","type":"quantitative"},"y":{"field":"p","type":"quantitative"},"text":{"field":"t"}}},
{"mark":{"type":"point","filled":true,"opacity":1,"size":36,"color":"#000000","shape":"triangle-down"},"data":{"values":[{"i":1.4,"p":5079}]},"encoding":{"x":{"field":"i","type":"quantitative"},"y":{"field":"p","type":"quantitative"}}},
{"mark":{"type":"text","align":"left","baseline":"middle","fontSize":10,"color":"#000000"},"data":{"values":[{"i":3.7,"p":5079,"t":"#Bitcoin,H4\u00a0\u00a03924.22 3943.77 3913.86 3927.76"}]},"encoding":{"x":{"field":"i","type":"quantitative"},"y":{"field":"p","type":"quantitative"},"text":{"field":"t"}}}
]},
{"width":1872,"height":208,"layer":[
{"mark":{"type":"rule","color":"#c0c0c0","strokeWidth":1,"strokeDash":[4,3]},"data":{"values":[{"v":70},{"v":50},{"v":30}]},"encoding":{"y":{"field":"v","type":"quantitative","scale":{"domain":[0.24,100.48],"nice":false,"zero":false},"axis":{"title":null,"orient":"right","labelOverlap":false,"tickCount":40,"values":[0.24,30,50,70,100.48],"labelExpr":"datum.value<1?'0':datum.value>100?'100':datum.label","labelFlush":true}},"x":{"datum":-0.375,"type":"quantitative","scale":{"domain":[-0.375,467.625],"nice":false,"zero":false},"axis":{"title":null,"labelOverlap":false,"tickCount":60,"values":[0,16,32,48,64,80,96,112,128,144,160,176,192,208,224,240,256,272,288,304,320,336,352,368],"labelExpr":"['19 Jul 2017','22 Jul 04:00','25 Jul 08:00','28 Jul 08:00','31 Jul 00:00','2 Aug 16:00','5 Aug 08:00','13 Aug 20:00','16 Aug 12:00','19 Aug 04:00','21 Aug 20:00','24 Aug 12:00','27 Aug 04:00','29 Aug 20:00','1 Sep 12:00','5 Sep 04:00','7 Sep 20:00','10 Sep 12:00','13 Sep 04:00','15 Sep 20:00','18 Sep 12:00','21 Sep 04:00','23 Sep 20:00','26 Sep 12:00'][datum.value/16]","labelAlign":"left","labelFlush":false,"tickSize":4,"labelPadding":1}},"x2":{"datum":467.625}}},
{"mark":{"type":"line","color":"#000000","strokeWidth":1,"interpolate":"linear"},"data":{"name":"bars"},"encoding":{"x":{"field":"i","type":"quantitative"},"y":{"field":"r","type":"quantitative"}}},
{"mark":{"type":"rule","color":"#ff4500","strokeWidth":3},"data":{"values":[{"v":92.3}]},"encoding":{"y":{"field":"v","type":"quantitative"}}},
{"mark":{"type":"rule","color":"#ff0000","strokeWidth":3},"data":{"values":[{"v":15.87}]},"encoding":{"y":{"field":"v","type":"quantitative"}}},
{"mark":{"type":"rule","color":"#b4b4b4","strokeWidth":2},"data":{"values":[{"i":-0.625},{"i":478.25}]},"encoding":{"x":{"field":"i","type":"quantitative"}}},
{"mark":{"type":"rect","color":"#ff4500"},"data":{"values":[{"i":467.9,"i2":478.1,"v":95,"v2":90}]},"encoding":{"x":{"field":"i","type":"quantitative"},"x2":{"field":"i2"},"y":{"field":"v","type":"quantitative"},"y2":{"field":"v2"}}},
{"mark":{"type":"rect","color":"#ff0000"},"data":{"values":[{"i":467.9,"i2":478.1,"v":18.6,"v2":13.8}]},"encoding":{"x":{"field":"i","type":"quantitative"},"x2":{"field":"i2"},"y":{"field":"v","type":"quantitative"},"y2":{"field":"v2"}}},
{"mark":{"type":"text","align":"left","baseline":"middle","fontSize":10,"color":"#ffffff"},"data":{"values":[{"i":468.9,"v":92.5,"t":"92.3000"},{"i":468.9,"v":16.1,"t":"15.8700"}]},"encoding":{"x":{"field":"i","type":"quantitative"},"y":{"field":"v","type":"quantitative"},"text":{"field":"t"}}},
{"mark":{"type":"text","align":"left","baseline":"middle","fontSize":10,"color":"#000000"},"data":{"values":[{"i":1,"v":95.9,"t":"RSI(14) 61.6663"}]},"encoding":{"x":{"field":"i","type":"quantitative"},"y":{"field":"v","type":"quantitative"},"text":{"field":"t"}}},
{"mark":{"type":"rect","color":"#d23c3c","opacity":0.45},"data":{"values":[{"i":-0.375,"i2":97.9,"v":24.8,"v2":-7}]},"encoding":{"x":{"field":"i","type":"quantitative"},"x2":{"field":"i2"},"y":{"field":"v","type":"quantitative"},"y2":{"field":"v2"}}},
{"mark":{"type":"text","align":"left","baseline":"alphabetic","font":"Liberation Sans","fontSize":38,"color":"#ffffff","opacity":0.9},"data":{"values":[{"i":11.9,"v":3.1,"t":"www.instaforex"}]},"encoding":{"x":{"field":"i","type":"quantitative"},"y":{"field":"v","type":"quantitative"},"text":{"field":"t"}}},
{"mark":{"type":"text","align":"left","baseline":"alphabetic","font":"Liberation Sans","fontSize":22,"color":"#ffffff","opacity":0.9},"data":{"values":[{"i":76.6,"v":3.1,"t":".com"}]},"encoding":{"x":{"field":"i","type":"quantitative"},"y":{"field":"v","type":"quantitative"},"text":{"field":"t"}}},
{"mark":{"type":"text","align":"left","baseline":"alphabetic","font":"Liberation Sans","fontSize":36,"color":"#ffffff","opacity":0.9},"data":{"values":[{"i":4.9,"v":2,"t":"["},{"i":90.1,"v":2,"t":"]"}]},"encoding":{"x":{"field":"i","type":"quantitative"},"y":{"field":"v","type":"quantitative"},"text":{"field":"t"}}}
]}
]}
